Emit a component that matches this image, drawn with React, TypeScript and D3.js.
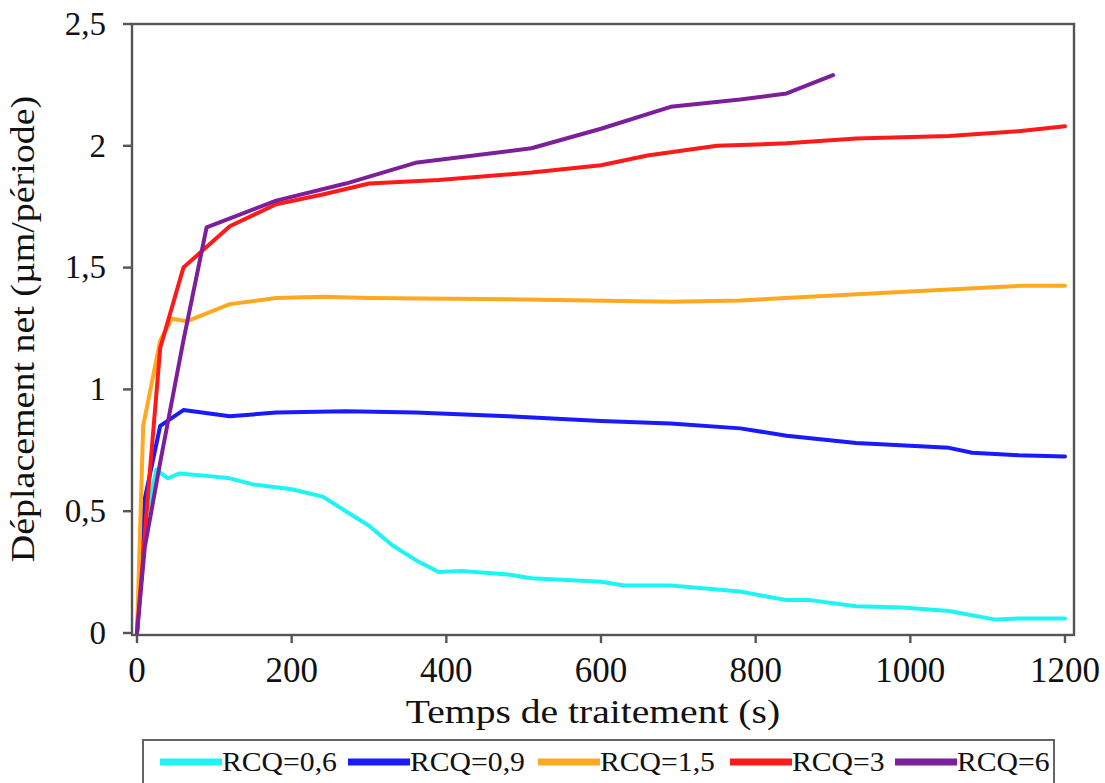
import React from "react";
import * as d3 from "d3";

const seriesNames = ["RCQ=0,6", "RCQ=0,9", "RCQ=1,5", "RCQ=3", "RCQ=6"];
const seriesColors = ["#1ef4f4", "#1a1aff", "#ffa820", "#ff1a1a", "#7d1f9a"];

const tCyan = [0, 10, 25, 40, 55, 90, 120, 150, 200, 240, 270, 300, 330, 360, 390, 420, 480, 510, 600, 630, 690, 780, 840, 870, 930, 990, 1050, 1110, 1140, 1200];
const yCyan = [0, 0.45, 0.67, 0.635, 0.655, 0.645, 0.635, 0.61, 0.59, 0.56, 0.5, 0.44, 0.36, 0.3, 0.25, 0.255, 0.24, 0.225, 0.21, 0.195, 0.195, 0.17, 0.135, 0.135, 0.11, 0.105, 0.09, 0.055, 0.06, 0.06];

const tBlue = [0, 10, 30, 60, 120, 180, 270, 360, 480, 600, 690, 780, 840, 930, 1050, 1080, 1140, 1200];
const yBlue = [0, 0.55, 0.85, 0.915, 0.89, 0.905, 0.91, 0.905, 0.89, 0.87, 0.86, 0.84, 0.81, 0.78, 0.76, 0.74, 0.73, 0.725];

const tOrange = [0, 8, 30, 45, 65, 120, 180, 240, 300, 480, 690, 780, 900, 1050, 1140, 1200];
const yOrange = [0, 0.85, 1.2, 1.29, 1.28, 1.35, 1.375, 1.38, 1.375, 1.37, 1.36, 1.365, 1.385, 1.41, 1.425, 1.425];

const tRed = [0, 15, 30, 60, 120, 180, 240, 300, 390, 510, 600, 660, 750, 840, 930, 1050, 1140, 1200];
const yRed = [0, 0.6, 1.17, 1.5, 1.67, 1.76, 1.8, 1.845, 1.86, 1.89, 1.92, 1.96, 2.0, 2.01, 2.03, 2.04, 2.06, 2.08];

const tPurple = [0, 10, 30, 60, 90, 180, 270, 360, 510, 600, 690, 780, 840, 900];
const yPurple = [0, 0.35, 0.7, 1.2, 1.665, 1.775, 1.845, 1.93, 1.99, 2.07, 2.16, 2.19, 2.215, 2.29];

const xTicks = [0, 200, 400, 600, 800, 1000, 1200];
const yTicks = [0, 0.5, 1, 1.5, 2, 2.5];
const yTickLabels = ["0", "0,5", "1", "1,5", "2", "2,5"];

const xTitle = "Temps de traitement (s)";
const yTitle = "Déplacement net (µm/période)";

const W = 1105;
const H = 783;
const FONT = "'Liberation Serif', 'Times New Roman', serif";
const INK = "#111";

export default function App() {
  const frame = { left: 132, right: 1074, top: 24, bottom: 635 };
  const x = d3.scaleLinear().domain([0, 1200]).range([137, 1065]);
  const y = d3.scaleLinear().domain([0, 2.5]).range([633, 24]);

  const times = [tCyan, tBlue, tOrange, tRed, tPurple];
  const values = [yCyan, yBlue, yOrange, yRed, yPurple];

  const line = d3
    .line<[number, number]>()
    .x((d) => x(d[0]))
    .y((d) => y(d[1]));

  const legendX = [160, 348, 538, 730, 895];
  const swatch = 62;
  const legendY = 762;

  return (
    <svg
      width={W}
      height={H}
      style={{ position: "absolute", left: 0, top: 0, background: "#fff" }}
      fontFamily={FONT}
    >
      <rect x={0} y={0} width={W} height={H} fill="#fff" />
      <defs>
        <clipPath id="clip">
          <rect x={frame.left} y={frame.top} width={frame.right - frame.left} height={frame.bottom - frame.top} />
        </clipPath>
      </defs>
      {/* series */}
      <g clipPath="url(#clip)">
        {seriesNames.map((name, i) => (
          <path
            key={name}
            d={line(times[i].map((t, j) => [t, values[i][j]] as [number, number])) || ""}
            fill="none"
            stroke={seriesColors[i]}
            strokeWidth={4}
            strokeLinejoin="round"
            strokeLinecap="round"
          />
        ))}
      </g>
      {/* frame */}
      <rect
        x={frame.left}
        y={frame.top}
        width={frame.right - frame.left}
        height={frame.bottom - frame.top}
        fill="none"
        stroke="#555"
        strokeWidth={2.4}
      />
      {/* y ticks */}
      {yTicks.map((v, i) => (
        <g key={v}>
          <line x1={123} x2={frame.left} y1={y(v)} y2={y(v)} stroke="#555" strokeWidth={2.4} />
          <text x={106} y={y(v)} dy="0.33em" textAnchor="end" fontSize={33} fill={INK}>
            {yTickLabels[i]}
          </text>
        </g>
      ))}
      {/* x ticks */}
      {xTicks.map((v) => (
        <g key={v}>
          <line x1={x(v)} x2={x(v)} y1={frame.bottom} y2={frame.bottom + 8} stroke="#555" strokeWidth={2.4} />
          <text x={x(v)} y={682} textAnchor="middle" fontSize={35} fill={INK}>
            {v}
          </text>
        </g>
      ))}
      <text
        transform={`translate(593, 723) scale(1.2, 1)`}
        textAnchor="middle"
        fontSize={33}
        fill={INK}
      >
        {xTitle}
      </text>
      <text
        transform={`translate(34, 329) rotate(-90) scale(1.15, 1)`}
        textAnchor="middle"
        fontSize={33}
        fill={INK}
      >
        {yTitle}
      </text>
      {/* legend */}
      <rect x={143} y={740} width={911} height={60} fill="#fff" stroke="#555" strokeWidth={1.8} />
      {seriesNames.map((name, i) => (
        <g key={name}>
          <line
            x1={legendX[i]}
            x2={legendX[i] + swatch}
            y1={legendY}
            y2={legendY}
            stroke={seriesColors[i]}
            strokeWidth={7}
          />
          <text
            transform={`translate(${legendX[i] + swatch}, ${legendY}) scale(1.1, 1)`}
            dy="0.34em"
            fontSize={27}
            fill={INK}
          >
            {name}
          </text>
        </g>
      ))}
    </svg>
  );
}
